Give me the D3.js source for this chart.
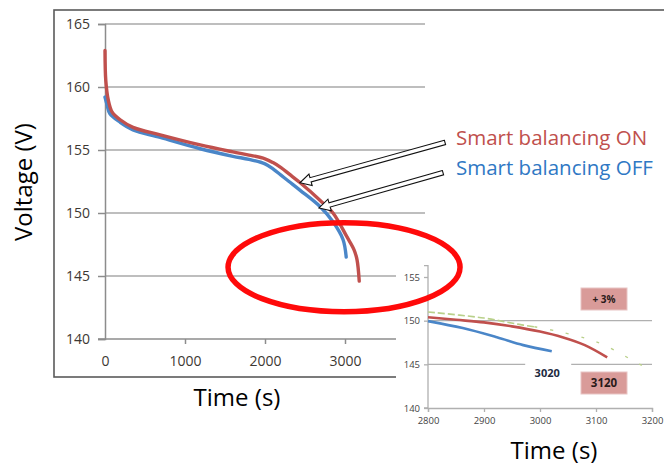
<!DOCTYPE html>
<html><head><meta charset="utf-8">
<script src="https://cdn.jsdelivr.net/npm/d3@7"></script>
<style>html,body{margin:0;padding:0;background:#fff;}svg{display:block;font-family:"Open Sans",sans-serif;}</style>
</head><body>
<svg id="c" width="664" height="466"></svg>
<script>
// ---- Main chart data ----
const onTime  = [0, 10, 40, 90, 190, 350, 690, 1190, 1600, 1800, 2000, 2100, 2200, 2300, 2440, 2690, 2850, 3025, 3112, 3150, 3178];
const onVolt  = [162.9, 160.5, 159.0, 158.0, 157.4, 156.8, 156.2, 155.4, 154.85, 154.6, 154.3, 154.0, 153.6, 153.1, 152.4, 151.0, 150.0, 148.1, 147.1, 146.3, 144.6];
const offTime = [0, 25, 60, 190, 350, 690, 1190, 1600, 1800, 2000, 2100, 2200, 2300, 2440, 2690, 2850, 2975, 3015];
const offVolt = [159.2, 158.6, 157.9, 157.2, 156.6, 156.0, 155.1, 154.5, 154.25, 153.9, 153.5, 153.0, 152.5, 151.8, 150.5, 149.3, 147.9, 146.5];
const mainXTicks = [0, 1000, 2000, 3000];
const mainYTicks = [140, 145, 150, 155, 160, 165];

// ---- Inset (zoom) data ----
const insetOnTime  = [2800, 2850, 2900, 2950, 3000, 3040, 3080, 3120];
const insetOnVolt  = [150.4, 150.1, 149.8, 149.35, 148.75, 148.1, 147.2, 145.8];
const insetOffTime = [2800, 2862, 2923, 2970, 3021];
const insetOffVolt = [149.95, 149.15, 148.1, 147.2, 146.5];
const trendTime = [2800, 2900, 2960, 2990, 3030, 3080, 3115, 3175, 3190];
const trendVolt = [151.0, 150.3, 149.6, 149.3, 148.8, 148.0, 147.2, 145.1, 144.6];
const insetXTicks = [2800, 2900, 3000, 3100, 3200];
const insetYTicks = [140, 145, 150, 155];
const insetGrid = [145, 150];

// ---- Annotations (data units) ----
const legendLabels = ["Smart balancing ON", "Smart balancing OFF"];
const arrowTips  = [[2437, 152.4], [2675, 150.4]];
const arrowTails = [[4250, 155.6], [4225, 153.2]];
const circleCenter = [2988, 145.7];
const circleRadius = [1450, 3.53]; // seconds, volts
const offEndLabel = "3020";
const onEndLabel = "3120";
const gainLabel = "+ 3%";

const RED = "#c0504d", BLUE = "#4a86c8";
const svg = d3.select("#c");

// ---- main scales ----
const x = d3.scaleLinear().domain([0, 4000]).range([105, 425]);
const y = d3.scaleLinear().domain([140, 165]).range([339, 24]);

// frame
svg.append("rect").attr("x", 54).attr("y", 10).attr("width", 720).attr("height", 367)
  .attr("fill", "none").attr("stroke", "#5a5a5a").attr("stroke-width", 1.6);

// gridlines
svg.append("g").selectAll("line").data(mainYTicks.filter(d => d > 140)).join("line")
  .attr("x1", x(0)).attr("x2", x(4000)).attr("y1", d => y(d)).attr("y2", d => y(d))
  .attr("stroke", "#a8a8a8").attr("stroke-width", 1.5);

// axes
const gy = svg.append("g").attr("transform", `translate(${x(0)},0)`)
  .call(d3.axisLeft(y).tickValues(mainYTicks).tickSize(7).tickPadding(8).tickFormat(d3.format("d")));
const gx = svg.append("g").attr("transform", `translate(0,${y(140)})`)
  .call(d3.axisBottom(x).tickValues(mainXTicks).tickSize(5).tickPadding(12).tickFormat(d3.format("d")));
[gy, gx].forEach(g => {
  g.select(".domain").attr("stroke", "#8c8c8c").attr("stroke-width", 1.5);
  g.selectAll(".tick line").attr("stroke", "#8c8c8c").attr("stroke-width", 1.5);
  g.selectAll("text").attr("font-family", "Open Sans").attr("font-size", 14).attr("fill", "#3d3833");
});
gx.select(".domain").attr("d", `M${x(0) - 7},0H${x(4000)}`);
gx.selectAll(".tick").filter(d => d === 0).select("line").remove();

// curves
const line = d3.line().x(d => x(d[0])).y(d => y(d[1])).curve(d3.curveCatmullRom.alpha(0.5));
svg.append("path").datum(offTime.map((t, i) => [t, offVolt[i]]))
  .attr("d", line).attr("fill", "none").attr("stroke", BLUE).attr("stroke-width", 3.4).attr("stroke-linecap", "round");
svg.append("path").datum(onTime.map((t, i) => [t, onVolt[i]]))
  .attr("d", line).attr("fill", "none").attr("stroke", RED).attr("stroke-width", 3.4).attr("stroke-linecap", "round");

// axis titles
svg.append("text").attr("transform", "translate(32,182) rotate(-90)").attr("text-anchor", "middle")
  .attr("font-size", 24).attr("fill", "#000").text("Voltage (V)");
svg.append("text").attr("x", 237).attr("y", 406).attr("text-anchor", "middle")
  .attr("font-size", 24).attr("fill", "#000").text("Time (s)");

// legend background
svg.append("rect").attr("x", 413).attr("y", 118).attr("width", 260).attr("height", 80).attr("fill", "#fff");

// ---- inset ----
svg.append("rect").attr("x", 396).attr("y", 248).attr("width", 270).attr("height", 220).attr("fill", "#fff");
const ix = d3.scaleLinear().domain([2800, 3200]).range([428, 652]);
const iy = d3.scaleLinear().domain([140, 155]).range([408, 277]);

const ig = svg.append("g");
ig.selectAll("line.grid").data(insetGrid).join("line").attr("class", "grid")
  .attr("x1", ix(2800)).attr("x2", ix(3200)).attr("y1", d => iy(d)).attr("y2", d => iy(d))
  .attr("stroke", "#b0b0b0").attr("stroke-width", 1.3);
const igy = ig.append("g").attr("transform", `translate(${ix(2800)},0)`)
  .call(d3.axisLeft(iy).tickValues(insetYTicks).tickSize(4).tickPadding(4).tickFormat(d3.format("d")));
const igx = ig.append("g").attr("transform", `translate(0,${iy(140)})`)
  .call(d3.axisBottom(ix).tickValues(insetXTicks).tickSize(4).tickPadding(5).tickFormat(d3.format("d")));
[igy, igx].forEach(g => {
  g.select(".domain").attr("stroke", "#b0b0b0").attr("stroke-width", 1.3);
  g.selectAll(".tick line").attr("stroke", "#b0b0b0").attr("stroke-width", 1.3);
  g.selectAll("text").attr("font-family", "Open Sans").attr("font-size", 9.5).attr("fill", "#444");
});
igy.select(".domain").attr("d", `M-4,${iy(156.3)}H0V${iy(140)}H-4`);

const iline = d3.line().x(d => ix(d[0])).y(d => iy(d[1])).curve(d3.curveCatmullRom.alpha(0.5));
const trend = trendTime.map((t, i) => [t, trendVolt[i]]);
ig.append("path").datum(trend.filter(d => d[0] <= 2990)).attr("d", iline)
  .attr("fill", "none").attr("stroke", "#b9d08a").attr("stroke-width", 1.6).attr("stroke-dasharray", "7,3");
ig.append("path").datum(trend.filter(d => d[0] >= 2990)).attr("d", iline)
  .attr("fill", "none").attr("stroke", "#b9d08a").attr("stroke-width", 1.4).attr("stroke-dasharray", "3,13");
ig.append("path").datum(insetOffTime.map((t, i) => [t, insetOffVolt[i]])).attr("d", iline)
  .attr("fill", "none").attr("stroke", BLUE).attr("stroke-width", 2.6);
ig.append("path").datum(insetOnTime.map((t, i) => [t, insetOnVolt[i]])).attr("d", iline)
  .attr("fill", "none").attr("stroke", RED).attr("stroke-width", 2.6);

// labels in inset
const l3020 = ig.append("g");
l3020.append("rect").attr("x", ix(3020) - 26).attr("y", iy(145) - 2).attr("width", 46).attr("height", 18).attr("fill", "#fff");
l3020.append("text").attr("x", ix(3020) - 4).attr("y", iy(145) + 13).attr("text-anchor", "middle")
  .attr("font-size", 11).attr("font-weight", "bold").attr("fill", "#1d2a3f").text(offEndLabel);
const boxes = [[gainLabel, 288], [onEndLabel, 372]];
boxes.forEach(([t, top]) => {
  ig.append("rect").attr("x", 581).attr("y", top).attr("width", 46).attr("height", 22)
    .attr("fill", "#d99b99").attr("stroke", "#e8c4c3").attr("stroke-width", 1);
  ig.append("text").attr("x", 604).attr("y", top + 15).attr("text-anchor", "middle")
    .attr("font-size", t === gainLabel ? 10 : 11.5).attr("font-weight", "bold").attr("fill", "#2a1a1a").text(t);
});
svg.append("text").attr("x", 554).attr("y", 459).attr("text-anchor", "middle")
  .attr("font-size", 24).attr("fill", "#000").text("Time (s)");

// ---- ellipse highlight ----
svg.append("ellipse")
  .attr("cx", x(circleCenter[0])).attr("cy", y(circleCenter[1]))
  .attr("rx", x(circleRadius[0]) - x(0)).attr("ry", y(140) - y(140 + circleRadius[1]))
  .attr("fill", "none").attr("stroke", "#ff0a0a").attr("stroke-width", 5.5);

// ---- block arrows ----
function blockArrow(tail, tip) {
  const T = [x(tail[0]), y(tail[1])], P = [x(tip[0]), y(tip[1])];
  const dx = P[0] - T[0], dy = P[1] - T[1], L = Math.hypot(dx, dy);
  const u = [dx / L, dy / L], n = [-u[1], u[0]];
  const sw = 2.2, hw = 6, hl = 11;
  const H = [P[0] - u[0] * hl, P[1] - u[1] * hl];
  const pt = (b, k) => [b[0] + n[0] * k, b[1] + n[1] * k];
  return [pt(T, sw), pt(H, sw), pt(H, hw), P, pt(H, -hw), pt(H, -sw), pt(T, -sw)];
}
svg.append("g").selectAll("polygon").data(arrowTips).join("polygon")
  .attr("points", (d, i) => blockArrow(arrowTails[i], d).map(p => p.join(",")).join(" "))
  .attr("fill", "#fff").attr("stroke", "#111").attr("stroke-width", 1.1).attr("stroke-linejoin", "miter");

// ---- legend text ----
svg.append("g").selectAll("text").data(legendLabels).join("text")
  .attr("x", 456).attr("y", (d, i) => 145 + i * 30)
  .attr("font-size", 20.5).attr("fill", (d, i) => i === 0 ? RED : "#2f78c4").text(d => d);
</script>
</body></html>
